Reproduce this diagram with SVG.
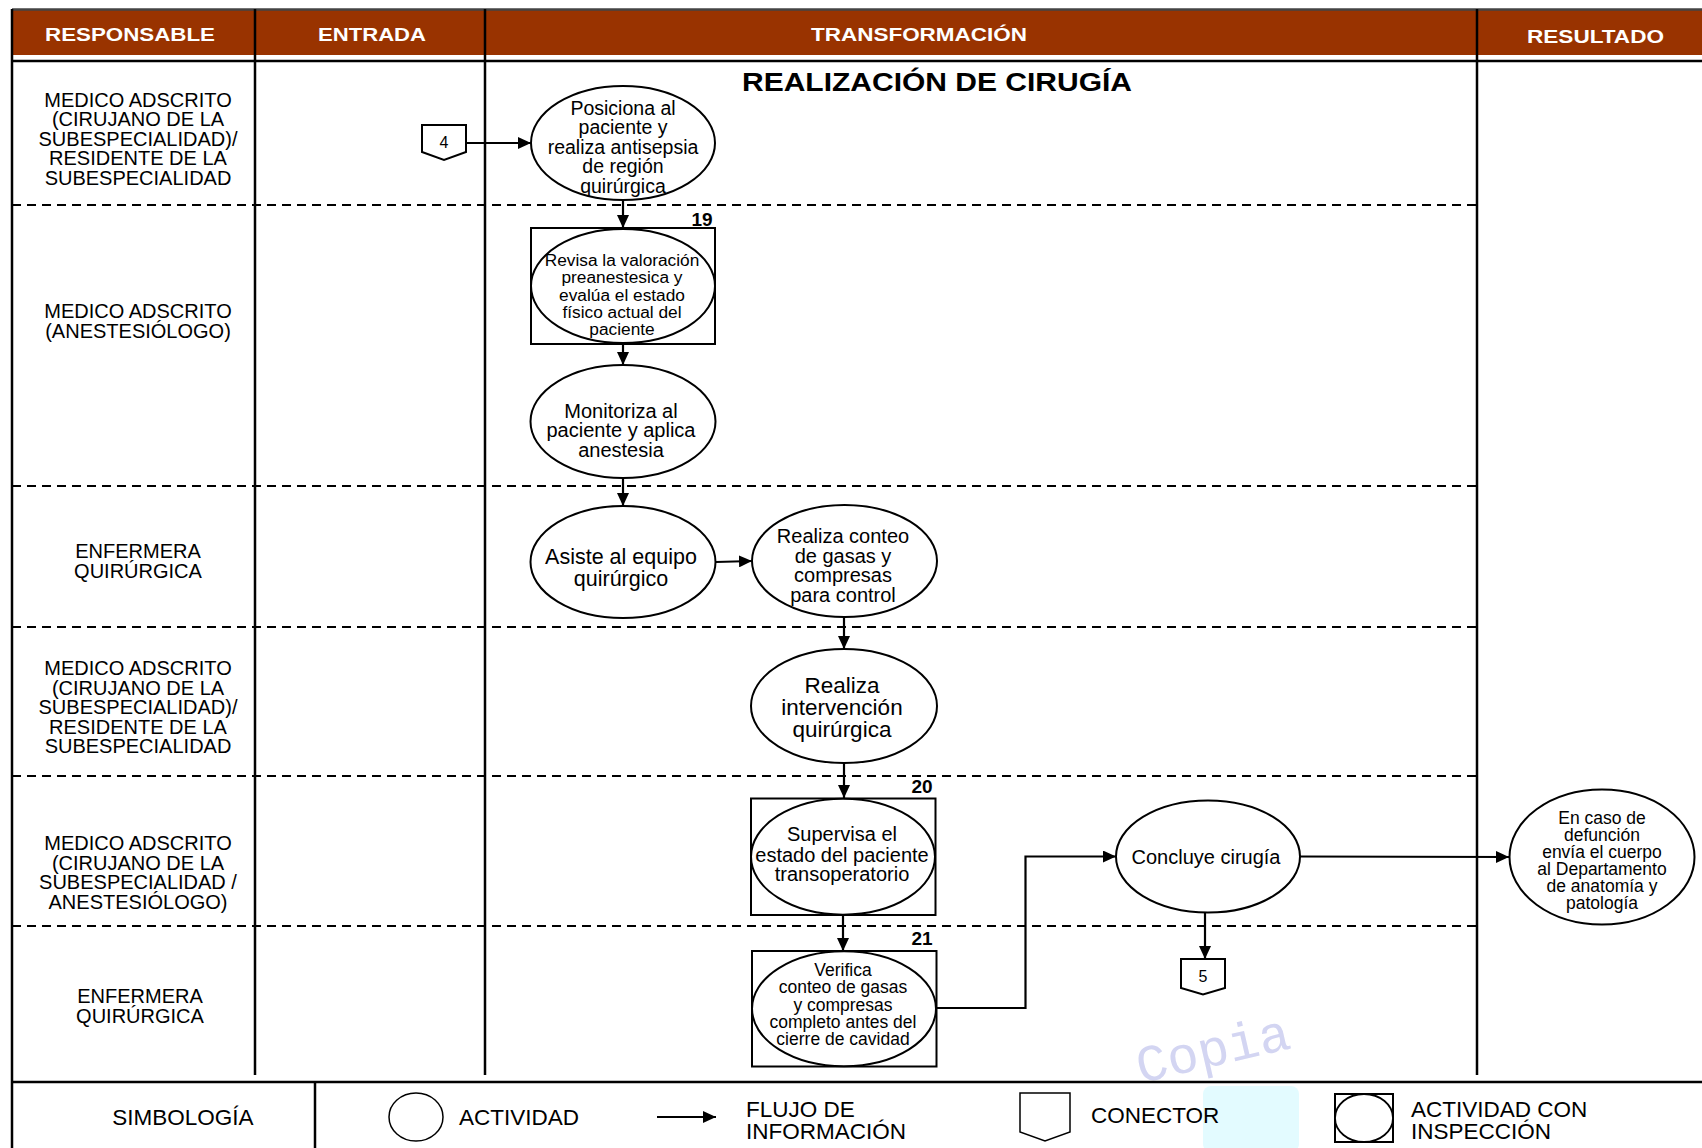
<svg xmlns="http://www.w3.org/2000/svg" width="1702" height="1148" viewBox="0 0 1702 1148">
<style>
.t{font-family:"Liberation Sans",Arial,sans-serif;fill:#000;text-anchor:middle}
.hd{font-family:"Liberation Sans",Arial,sans-serif;font-weight:bold;fill:#fff;font-size:17.5px}
.lane{font-size:20px}
.num{font-weight:bold;font-size:19px}
.lg{font-family:"Liberation Sans",Arial,sans-serif;fill:#000;font-size:22.5px}
.sh{fill:#fff;stroke:#000;stroke-width:2}
.ln{stroke:#000;stroke-width:2.5;fill:none}
.dash{stroke:#000;stroke-width:2;stroke-dasharray:9 6;fill:none}
.cn{stroke:#000;stroke-width:2.2;fill:none}
</style>
<defs>
<marker id="ah" viewBox="0 0 13 12" refX="13" refY="6" markerWidth="13" markerHeight="12" markerUnits="userSpaceOnUse" orient="auto">
<path d="M0,0 L13,6 L0,12 z" fill="#000"/>
</marker>
</defs>
<rect width="1702" height="1148" fill="#fff"/>

<g id="watermark">
<rect x="1203" y="1086" width="96" height="66" rx="8" fill="#e3fbff"/>
<text x="1213" y="1066" transform="rotate(-13 1213 1050)" style="font-family:'Liberation Mono',monospace;font-size:52px;fill:#d3d5f2;text-anchor:middle">Copia</text>
</g>

<g id="frame">
<rect x="12" y="10" width="1690" height="45" fill="#993300"/>
<line class="ln" x1="12" y1="9.5" x2="1702" y2="9.5" style="stroke:#444"/>
<line class="ln" x1="12" y1="61" x2="1702" y2="61"/>
<line class="ln" x1="12" y1="9" x2="12" y2="1148"/>
<line class="ln" x1="255" y1="9" x2="255" y2="1075"/>
<line class="ln" x1="485" y1="9" x2="485" y2="1075"/>
<line class="ln" x1="1477" y1="9" x2="1477" y2="1075"/>
<line class="ln" x1="12" y1="1082" x2="1702" y2="1082"/>
<line class="ln" x1="315" y1="1082" x2="315" y2="1148"/>
<line class="dash" x1="12" y1="205" x2="1477" y2="205"/>
<line class="dash" x1="12" y1="486" x2="1477" y2="486"/>
<line class="dash" x1="12" y1="627" x2="1477" y2="627"/>
<line class="dash" x1="12" y1="776" x2="1477" y2="776"/>
<line class="dash" x1="12" y1="926" x2="1477" y2="926"/>
<text class="hd" x="45" y="41" textLength="170" lengthAdjust="spacingAndGlyphs">RESPONSABLE</text>
<text class="hd" x="318" y="41" textLength="108" lengthAdjust="spacingAndGlyphs">ENTRADA</text>
<text class="hd" x="811" y="41" textLength="216" lengthAdjust="spacingAndGlyphs">TRANSFORMACIÓN</text>
<text class="hd" x="1527" y="43" textLength="137" lengthAdjust="spacingAndGlyphs">RESULTADO</text>
<text x="742" y="91" textLength="390" lengthAdjust="spacingAndGlyphs" style="font-family:'Liberation Sans',Arial,sans-serif;font-weight:bold;font-size:26px;fill:#000">REALIZACIÓN DE CIRUGÍA</text>
</g>

<g id="lanes">
<text class="t lane" x="138" y="106.5">MEDICO ADSCRITO</text>
<text class="t lane" x="138" y="126">(CIRUJANO DE LA</text>
<text class="t lane" x="138" y="145.5">SUBESPECIALIDAD)/</text>
<text class="t lane" x="138" y="165">RESIDENTE DE LA</text>
<text class="t lane" x="138" y="184.5">SUBESPECIALIDAD</text>
<text class="t lane" x="138" y="318">MEDICO ADSCRITO</text>
<text class="t lane" x="138" y="337.5">(ANESTESIÓLOGO)</text>
<text class="t lane" x="138" y="558">ENFERMERA</text>
<text class="t lane" x="138" y="577.5">QUIRÚRGICA</text>
<text class="t lane" x="138" y="675">MEDICO ADSCRITO</text>
<text class="t lane" x="138" y="694.5">(CIRUJANO DE LA</text>
<text class="t lane" x="138" y="714">SUBESPECIALIDAD)/</text>
<text class="t lane" x="138" y="733.5">RESIDENTE DE LA</text>
<text class="t lane" x="138" y="753">SUBESPECIALIDAD</text>
<text class="t lane" x="138" y="850">MEDICO ADSCRITO</text>
<text class="t lane" x="138" y="869.5">(CIRUJANO DE LA</text>
<text class="t lane" x="138" y="889">SUBESPECIALIDAD /</text>
<text class="t lane" x="138" y="908.5">ANESTESIÓLOGO)</text>
<text class="t lane" x="140" y="1003">ENFERMERA</text>
<text class="t lane" x="140" y="1022.5">QUIRÚRGICA</text>
</g>

<g id="connectors">
<line class="cn" x1="466" y1="143" x2="531" y2="143" marker-end="url(#ah)"/>
<line class="cn" x1="623" y1="200" x2="623" y2="228" marker-end="url(#ah)"/>
<line class="cn" x1="623" y1="344" x2="623" y2="365" marker-end="url(#ah)"/>
<line class="cn" x1="623" y1="478" x2="623" y2="506" marker-end="url(#ah)"/>
<line class="cn" x1="716" y1="562" x2="752" y2="561" marker-end="url(#ah)"/>
<line class="cn" x1="844" y1="617" x2="844" y2="649" marker-end="url(#ah)"/>
<line class="cn" x1="844" y1="763" x2="844" y2="798" marker-end="url(#ah)"/>
<line class="cn" x1="843" y1="915" x2="843" y2="951" marker-end="url(#ah)"/>
<path class="cn" d="M936,1008 H1025.5 V856.5 H1116" marker-end="url(#ah)"/>
<line class="cn" x1="1205" y1="913" x2="1205" y2="959" marker-end="url(#ah)"/>
<line class="cn" x1="1300" y1="856.5" x2="1509" y2="857" marker-end="url(#ah)"/>
</g>

<g id="c4">
<path class="sh" d="M422,125 H466 V152 L444,160 L422,152 Z"/>
<text class="t" x="444" y="147.5" style="font-size:16px">4</text>
</g>

<g id="n1">
<ellipse class="sh" cx="623" cy="143" rx="92" ry="57"/>
<text class="t" style="font-size:19.5px"><tspan x="623" y="114.5">Posiciona al</tspan><tspan x="623" y="134">paciente y</tspan><tspan x="623" y="153.5">realiza antisepsia</tspan><tspan x="623" y="173">de región</tspan><tspan x="623" y="192.5">quirúrgica</tspan></text>
</g>

<g id="n19">
<rect class="sh" x="531" y="228" width="184" height="116"/>
<ellipse class="sh" cx="623" cy="286" rx="92" ry="57"/>
<text class="t num" x="702" y="226">19</text>
<text class="t" style="font-size:17.3px"><tspan x="622" y="266">Revisa la valoración</tspan><tspan x="622" y="283.3">preanestesica y</tspan><tspan x="622" y="300.6">evalúa el estado</tspan><tspan x="622" y="317.9">físico actual del</tspan><tspan x="622" y="335.2">paciente</tspan></text>
</g>

<g id="n2">
<ellipse class="sh" cx="623" cy="421.5" rx="92.5" ry="56.5"/>
<text class="t" style="font-size:20px"><tspan x="621" y="417.5">Monitoriza al</tspan><tspan x="621" y="437">paciente y aplica</tspan><tspan x="621" y="456.5">anestesia</tspan></text>
</g>

<g id="n3">
<ellipse class="sh" cx="623" cy="562" rx="92.5" ry="56"/>
<text class="t" style="font-size:21.5px"><tspan x="621" y="563.5">Asiste al equipo</tspan><tspan x="621" y="586">quirúrgico</tspan></text>
</g>

<g id="n4">
<ellipse class="sh" cx="844.5" cy="561" rx="92.5" ry="56"/>
<text class="t" style="font-size:20px"><tspan x="843" y="543">Realiza conteo</tspan><tspan x="843" y="562.5">de gasas y</tspan><tspan x="843" y="582">compresas</tspan><tspan x="843" y="601.5">para control</tspan></text>
</g>

<g id="n5">
<ellipse class="sh" cx="844" cy="706" rx="93" ry="57"/>
<text class="t" style="font-size:22.5px"><tspan x="842" y="693">Realiza</tspan><tspan x="842" y="715">intervención</tspan><tspan x="842" y="737">quirúrgica</tspan></text>
</g>

<g id="n20">
<rect class="sh" x="751" y="798.5" width="184.5" height="116.5"/>
<ellipse class="sh" cx="843" cy="856.7" rx="92" ry="58"/>
<text class="t num" x="922" y="793">20</text>
<text class="t" style="font-size:20px"><tspan x="842" y="841">Supervisa el</tspan><tspan x="842" y="861.5">estado del paciente</tspan><tspan x="842" y="881">transoperatorio</tspan></text>
</g>

<g id="n21">
<rect class="sh" x="752" y="951" width="184.5" height="115.5"/>
<ellipse class="sh" cx="844" cy="1008.7" rx="92" ry="57.5"/>
<text class="t num" x="922" y="945">21</text>
<text class="t" style="font-size:17.5px"><tspan x="843" y="976">Verifica</tspan><tspan x="843" y="993.3">conteo de gasas</tspan><tspan x="843" y="1010.6">y compresas</tspan><tspan x="843" y="1027.9">completo antes del</tspan><tspan x="843" y="1045.2">cierre de cavidad</tspan></text>
</g>

<g id="n6">
<ellipse class="sh" cx="1208" cy="856.5" rx="92" ry="56"/>
<text class="t" x="1206" y="863.5" style="font-size:20px">Concluye cirugía</text>
</g>

<g id="c5">
<path class="sh" d="M1181,959 H1225 V988 L1203,994.5 L1181,988 Z"/>
<text class="t" x="1203" y="981.5" style="font-size:16px">5</text>
</g>

<g id="n7">
<ellipse class="sh" cx="1602" cy="857" rx="92.5" ry="67.5"/>
<text class="t" style="font-size:17.5px"><tspan x="1602" y="823.5">En caso de</tspan><tspan x="1602" y="840.5">defunción</tspan><tspan x="1602" y="857.5">envía el cuerpo</tspan><tspan x="1602" y="874.5">al Departamento</tspan><tspan x="1602" y="891.5">de anatomía y</tspan><tspan x="1602" y="908.5">patología</tspan></text>
</g>

<g id="legend">
<text class="lg" x="183" y="1125" style="text-anchor:middle">SIMBOLOGÍA</text>
<ellipse class="sh" cx="416" cy="1117" rx="27" ry="24" style="stroke-width:1.5"/>
<text class="lg" x="459" y="1125">ACTIVIDAD</text>
<line class="cn" x1="657" y1="1117" x2="716" y2="1117" marker-end="url(#ah)"/>
<text class="lg" x="746" y="1117">FLUJO DE</text>
<text class="lg" x="746" y="1139">INFORMACIÓN</text>
<path class="sh" d="M1020,1093 H1070 V1132 L1045,1141 L1020,1132 Z" style="stroke-width:1.5"/>
<text class="lg" x="1091" y="1123">CONECTOR</text>
<rect class="sh" x="1335" y="1094" width="58" height="48" style="stroke-width:2"/>
<ellipse class="sh" cx="1364" cy="1118" rx="29" ry="24" style="stroke-width:1.8"/>
<text class="lg" x="1411" y="1117">ACTIVIDAD CON</text>
<text class="lg" x="1411" y="1139">INSPECCIÓN</text>
</g>
</svg>
